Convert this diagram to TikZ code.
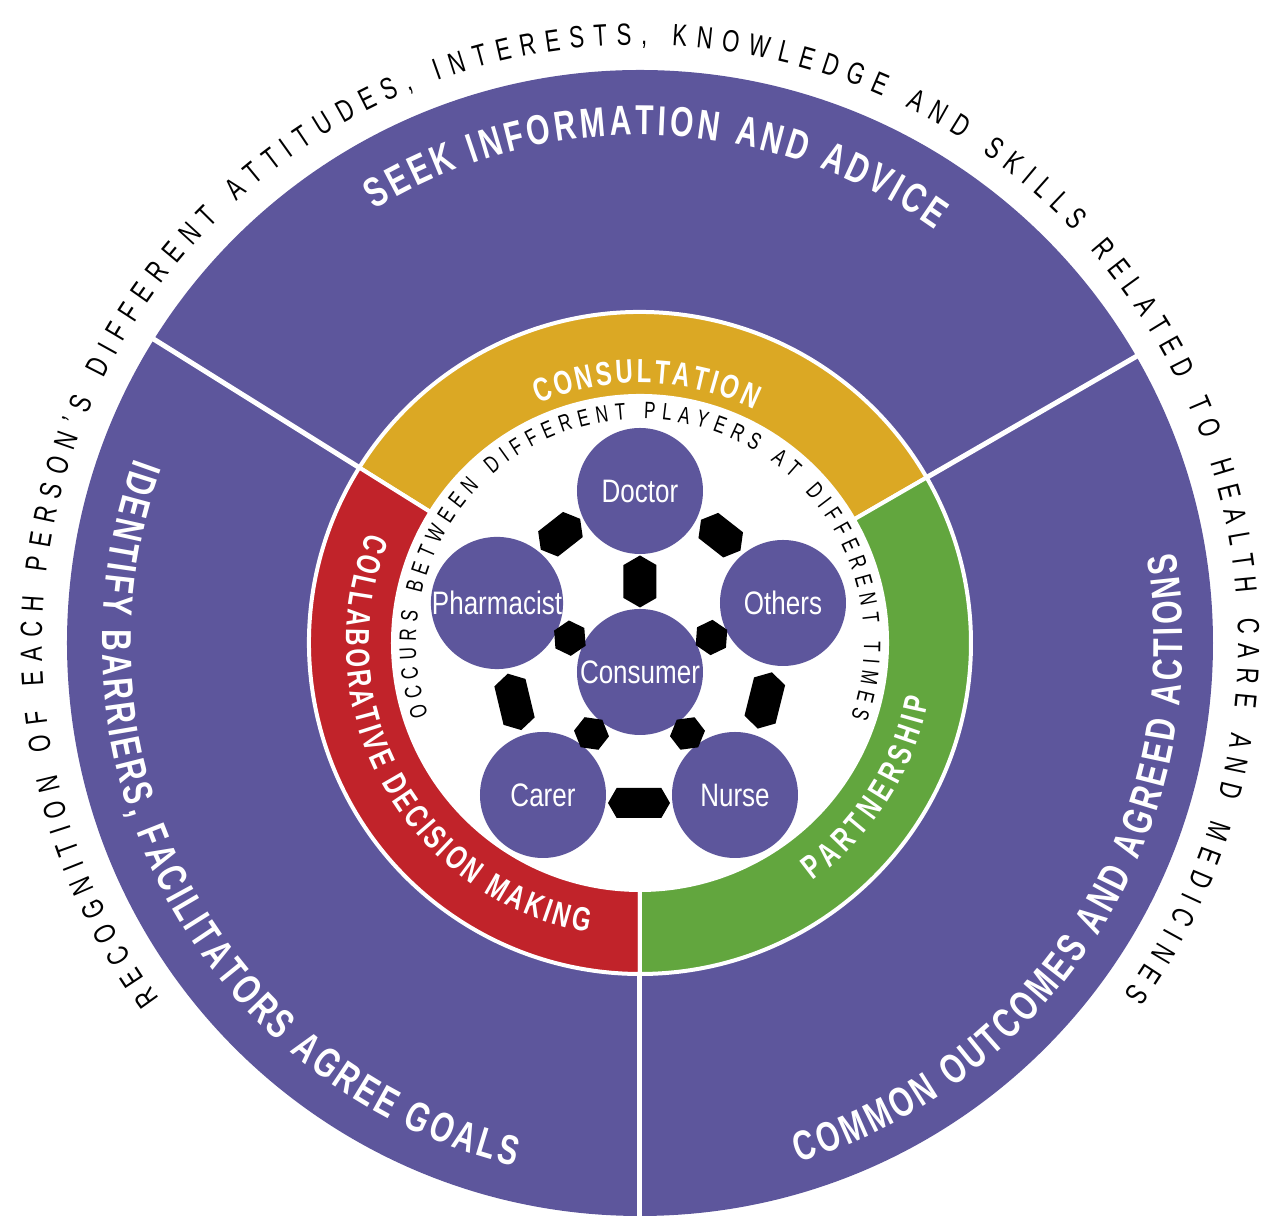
\documentclass[tikz,border=0pt]{standalone}
\usepackage{fontspec}
\setmainfont{Liberation Sans}
\newfontfamily\condfont{Liberation Sans}[FakeStretch=0.72]
\newfontfamily\labelfont{Liberation Sans}[FakeStretch=0.8]
\usepackage{tikz}
\usetikzlibrary{decorations.text,shapes.symbols}
\definecolor{wheelPurple}{HTML}{5D569C}
\definecolor{wheelGold}{HTML}{DBA824}
\definecolor{wheelRed}{HTML}{C1232A}
\definecolor{wheelGreen}{HTML}{62A63E}

\newcommand\outerfont{\condfont\fontsize{17.5}{20}\selectfont}
\newcommand\bandfont{\condfont\bfseries\fontsize{23.8}{26}\selectfont}
\newcommand\ringfont{\condfont\bfseries\fontsize{19}{21}\selectfont}
\newcommand\innerfont{\condfont\fontsize{13.5}{15}\selectfont}

\tikzset{
  player/.style={circle, fill=wheelPurple, minimum size=25.2mm, inner sep=0pt,
    text=white, font=\labelfont\fontsize{18.5}{20}\selectfont},
  bond/.style 2 args={shape=signal, signal to=east and west, signal pointer angle=120,
    fill=black, inner sep=0pt, minimum width=#1, minimum height=#2,
    sloped, allow upside down},
  arctext/.style 2 args={decorate, decoration={text along path, text align=fit to path,
    text color=#1, text={#2}}},
}

\begin{document}
\begin{tikzpicture}[x=0.2mm, y=0.2mm]
  \useasboundingbox (-640,-573) rectangle (634,643);

  % Wheel and its three sectors
  \fill[wheelPurple] (0,0) circle[radius=573];
  \foreach \a in {30,148,270}
    \draw[white, line width=1mm] (\a:300) -- (\a:580);

  % Coloured ring
  \fill[wheelGold, draw=white, line width=0.8mm] (30:331) arc[start angle=30, end angle=148, radius=331]
    -- (148:247) arc[start angle=148, end angle=30, radius=247] -- cycle;
  \fill[wheelRed, draw=white, line width=0.8mm] (148:331) arc[start angle=148, end angle=270, radius=331]
    -- (270:247) arc[start angle=270, end angle=148, radius=247] -- cycle;
  \fill[wheelGreen, draw=white, line width=0.8mm] (270:331) arc[start angle=270, end angle=390, radius=331]
    -- (390:247) arc[start angle=390, end angle=270, radius=247] -- cycle;
  \fill[white] (0,0) circle[radius=246];

  % Outer caption
  \path[arctext={black}{|\outerfont|RECOGNITION OF EACH PERSON’S DIFFERENT ATTITUDES, INTERESTS, KNOWLEDGE AND SKILLS RELATED TO HEALTH CARE AND MEDICINES}]
    (216.5:598) arc[start angle=216.5, end angle=-36, radius=598];

  % Sector titles
  \path[arctext={white}{|\bandfont|SEEK INFORMATION AND ADVICE}]
    (121.5:508) arc[start angle=121.5, end angle=54.5, radius=508];
  \path[arctext={white}{|\bandfont|IDENTIFY BARRIERS, FACILITATORS AGREE GOALS}]
    (160:538) arc[start angle=160, end angle=256.5, radius=538];
  \path[arctext={white}{|\bandfont|COMMON OUTCOMES AND AGREED ACTIONS}]
    (287:543) arc[start angle=287, end angle=369.5, radius=543];

  % Ring titles
  \path[arctext={white}{|\ringfont|CONSULTATION}]
    (113:260) arc[start angle=113, end angle=64, radius=260];
  \path[arctext={white}{|\ringfont|COLLABORATIVE DECISION MAKING}]
    (158:294) arc[start angle=158, end angle=260, radius=294];
  \path[arctext={white}{|\ringfont|PARTNERSHIP}]
    (306:294) arc[start angle=306, end angle=349, radius=294];

  % Inner caption
  \path[arctext={black}{|\innerfont|OCCURS BETWEEN DIFFERENT PLAYERS AT DIFFERENT TIMES}]
    (199:224) arc[start angle=199, end angle=-19.5, radius=224];

  % Players
  \node[player] (doctor) at (0,152) {Doctor};
  \node[player] (others) at (143,40) {Others};
  \node[player] (nurse) at (95,-152) {Nurse};
  \node[player] (carer) at (-97,-152) {Carer};
  \node[player] (pharm) at (-143,40) {Pharmacist};
  \node[player] (consumer) at (0,-29) {Consumer};

  % Links round the outside
  \path (pharm) -- node[bond={10mm}{6.4mm}, yshift=3mm] {} (doctor);
  \path (doctor) -- node[bond={10mm}{6.4mm}, yshift=3mm] {} (others);
  \path (others) -- node[bond={11.6mm}{6.4mm}, yshift=1.2mm] {} (nurse);
  \path (nurse) -- node[bond={12.4mm}{6mm}, yshift=1.6mm] {} (carer);
  \path (carer) -- node[bond={11.6mm}{6.4mm}, yshift=1.2mm] {} (pharm);

  % Links to the consumer
  \path (doctor) -- node[bond={10.4mm}{6.6mm}] {} (consumer);
  \path (pharm) -- node[bond={7mm}{6.2mm}] {} (consumer);
  \path (others) -- node[bond={7mm}{6.2mm}] {} (consumer);
  \path (carer) -- node[bond={7mm}{6.2mm}] {} (consumer);
  \path (nurse) -- node[bond={7mm}{6.2mm}] {} (consumer);
\end{tikzpicture}
\end{document}
